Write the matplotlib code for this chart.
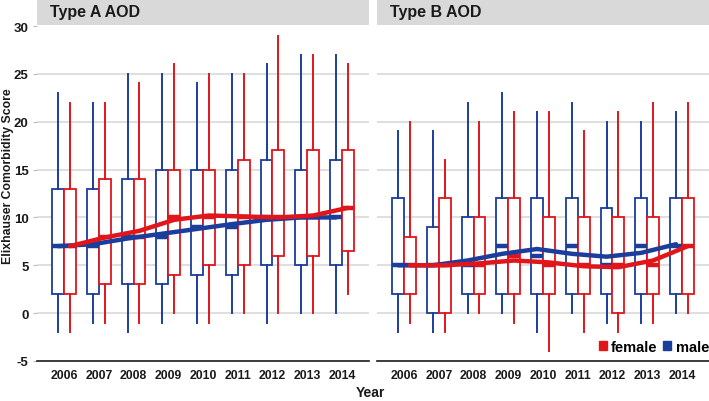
import matplotlib
matplotlib.use('Agg')
import matplotlib.pyplot as plt
import numpy as np
from matplotlib.patches import Rectangle, Patch

years = [2006, 2007, 2008, 2009, 2010, 2011, 2012, 2013, 2014]
panels = ["Type A AOD", "Type B AOD"]
groups = ["female", "male"]

# Type A AOD
a_male_low = [-2, -1, -2, -1, -1, 0, -1, 0, 0]
a_male_q1 = [2, 2, 3, 3, 4, 4, 5, 5, 5]
a_male_med = [7, 7, 8, 8, 9, 9, 10, 10, 10]
a_male_q3 = [13, 13, 14, 15, 15, 15, 16, 15, 16]
a_male_high = [23, 22, 25, 25, 24, 25, 26, 27, 27]
a_female_low = [-2, -1, -1, 0, -1, 0, 0, 0, 2]
a_female_q1 = [2, 3, 3, 4, 5, 5, 6, 6, 6.5]
a_female_med = [7, 8, 8, 10, 10, 10, 10, 10, 11]
a_female_q3 = [13, 14, 14, 15, 15, 16, 17, 17, 17]
a_female_high = [22, 22, 24, 26, 25, 25, 29, 27, 26]
a_male_trend = [7.0, 7.2, 7.8, 8.3, 8.8, 9.3, 9.75, 10.0, 10.0]
a_female_trend = [7.0, 7.9, 8.6, 9.75, 10.2, 10.1, 10.0, 10.2, 11.0]

# Type B AOD
b_male_low = [-2, -2, 0, 0, -2, 0, -1, -1, 0]
b_male_q1 = [2, 0, 2, 2, 2, 2, 2, 2, 2]
b_male_med = [5, 5, 5, 7, 6, 7, 5, 7, 7]
b_male_q3 = [12, 9, 10, 12, 12, 12, 11, 12, 12]
b_male_high = [19, 19, 22, 23, 21, 22, 20, 20, 21]
b_female_low = [-1, -2, 0, -1, -4, -2, -2, -1, 0]
b_female_q1 = [2, 0, 2, 2, 2, 2, 0, 2, 2]
b_female_med = [5, 5, 5, 6, 5, 5, 5, 5, 7]
b_female_q3 = [8, 12, 10, 12, 10, 10, 10, 10, 12]
b_female_high = [20, 16, 20, 21, 21, 19, 21, 22, 22]
b_male_trend = [5.0, 5.0, 5.5, 6.2, 6.7, 6.2, 5.9, 6.3, 7.2]
b_female_trend = [5.0, 5.0, 5.2, 5.5, 5.3, 4.9, 4.8, 5.5, 7.0]

RED = '#e0161b'
BLUE = '#1b3d9c'
GRID = '#d9d9d9'
FONT = ['Liberation Sans', 'DejaVu Sans']
TXT = '#1a1a1a'

W, H = 709, 402
fig = plt.figure(figsize=(W / 100, H / 100), dpi=100)

def fx(px):
    return px / W

def fy(py):
    return 1 - py / H

panel_data = [
    dict(male=(a_male_low, a_male_q1, a_male_med, a_male_q3, a_male_high),
         female=(a_female_low, a_female_q1, a_female_med, a_female_q3, a_female_high),
         mtrend=a_male_trend, ftrend=a_female_trend),
    dict(male=(b_male_low, b_male_q1, b_male_med, b_male_q3, b_male_high),
         female=(b_female_low, b_female_q1, b_female_med, b_female_q3, b_female_high),
         mtrend=b_male_trend, ftrend=b_female_trend),
]

lefts = [37, 377]
rights = [369, 709]
top, bottom = 27, 362
width = 0.34
idx = np.arange(len(years))

axes = []
for p, (l, r) in enumerate(zip(lefts, rights)):
    ax = fig.add_axes([fx(l), fy(bottom), fx(r) - fx(l), fy(top) - fy(bottom)])
    axes.append(ax)
    # strip
    fig.patches.append(Rectangle((fx(l), fy(top - 1)), fx(r) - fx(l), fy(0) - fy(top - 1),
                                 transform=fig.transFigure, facecolor=GRID,
                                 edgecolor='none', zorder=0))
    fig.text(fx(l + 13), fy(13), panels[p], fontsize=11.5, fontweight='bold',
             family=FONT, va='center', ha='left', color=TXT)

    d = panel_data[p]
    for key, col, off in (('male', BLUE, -width / 2), ('female', RED, width / 2)):
        lo, q1, med, q3, hi = d[key]
        stats = [dict(whislo=lo[i], q1=q1[i], med=med[i], q3=q3[i], whishi=hi[i],
                      fliers=[]) for i in range(len(years))]
        ax.bxp(stats, positions=idx + off, widths=width, showcaps=False,
               showfliers=False, patch_artist=True,
               boxprops=dict(facecolor='white', edgecolor=col, linewidth=1.3),
               whiskerprops=dict(color=col, linewidth=1.4),
               medianprops=dict(color=col, linewidth=3.2, solid_capstyle='butt'),
               manage_ticks=False, zorder=2)
    ax.plot(idx - width / 2, d['mtrend'], color=BLUE, linewidth=3.2, zorder=4,
            solid_capstyle='round')
    ax.plot(idx + width / 2, d['ftrend'], color=RED, linewidth=3.2, zorder=5,
            solid_capstyle='round')

    ax.set_xlim(-0.78, 8.78)
    ax.set_ylim(-5, 30)
    ax.set_yticks([-5, 0, 5, 10, 15, 20, 25, 30])
    for yv in [0, 5, 10, 15, 20, 25]:
        ax.axhline(yv, color=GRID, linewidth=1.2, zorder=0)
    ax.set_xticks(idx)
    ax.set_xticklabels([str(y) for y in years], fontsize=8.8, fontweight='bold',
                       family=FONT, color=TXT)
    ax.tick_params(axis='x', length=0, pad=6)
    ax.tick_params(axis='y', length=3, color='#bbbbbb', pad=3)
    for s in ('top', 'right', 'left'):
        ax.spines[s].set_visible(False)
    ax.spines['bottom'].set_color(TXT)
    ax.spines['bottom'].set_linewidth(1.2)
    if p == 0:
        ax.set_yticklabels(['-5', '0', '5', '10', '15', '20', '25', '30'],
                           fontsize=9.5, fontweight='bold', family=FONT, color=TXT)
    else:
        ax.set_yticklabels([])
        ax.tick_params(axis='y', length=0)

fig.text(fx(8), fy(176), 'Elixhauser Comorbidity Score', rotation=90, fontsize=8.8,
         fontweight='bold', family=FONT, va='center', ha='center', color=TXT)
fig.text(fx(370), fy(393), 'Year', fontsize=10, fontweight='bold', family=FONT,
         va='center', ha='center', color=TXT)

handles = [Patch(facecolor=RED, edgecolor=RED, label=groups[0]),
           Patch(facecolor=BLUE, edgecolor=BLUE, label=groups[1])]
axes[1].legend(handles=handles, loc='center right',
               bbox_to_anchor=(1.0, 14 / (bottom - top)), ncol=2, frameon=False,
               prop=dict(family=FONT, weight='bold', size=10.5),
               handlelength=0.55, handleheight=0.55, handletextpad=0.3,
               columnspacing=0.4, borderaxespad=0, borderpad=0)

fig.savefig('out.png', dpi=100)
